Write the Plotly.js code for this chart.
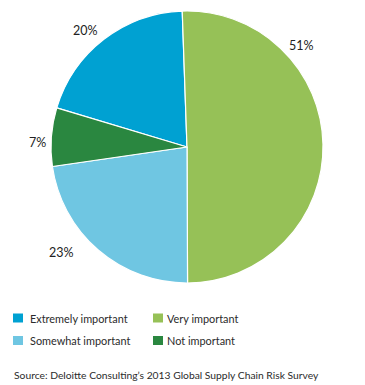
<!DOCTYPE html>
<html>
<head>
<meta charset="utf-8">
<script src="https://cdn.plot.ly/plotly-3.0.1.min.js"></script>
<style>html,body{margin:0;padding:0;background:#fff;}#chart{width:365px;height:385px;}</style>
</head>
<body>
<div id="chart"></div>
<script>
// Data (slices run clockwise starting with "Extremely important")
const categories = ["Extremely important", "Very important", "Somewhat important", "Not important"];
const values = [20, 51, 23, 7];
const colors = ["#00a1d2", "#96c157", "#6fc6e2", "#2a8740"];
const legendOrder = ["Extremely important", "Very important", "Somewhat important", "Not important"];
const sourceText = "Source: Deloitte Consulting\u2019s 2013 Global Supply Chain Risk Survey";

// Layout helpers (pixel -> paper)
const W = 365, H = 385;
const px = v => v / W;
const py = v => 1 - v / H;

// Percentage label placement (pixels), same order as categories
const labelPos = [[85, 30], [301.5, 45], [61, 252], [37, 142]];
// Manual legend grid (pixels): 2 columns x 2 rows
const legendCols = [18, 158];
const legendTextX = [28, 165];
const legendRows = [318, 340.5];

const FONT = "Lato, 'Open Sans', sans-serif";
const TXT = "#2b2b2b";

const trace = {
  type: "pie",
  labels: categories,
  values: values,
  sort: false,
  direction: "clockwise",
  rotation: -73.3,
  marker: { colors: colors, line: { color: "#ffffff", width: 1.2 } },
  textinfo: "none",
  hoverinfo: "label+percent",
  showlegend: false,
  domain: { x: [px(51), px(323)], y: [py(283), py(11)] }
};

const annotations = categories.map((c, i) => ({
  text: values[i] + "%",
  x: px(labelPos[i][0]), y: py(labelPos[i][1]),
  xref: "paper", yref: "paper",
  xanchor: "center", yanchor: "middle",
  showarrow: false,
  font: { family: FONT, size: 12.5, color: "#222" }
}));

const shapes = [];
legendOrder.forEach((name, k) => {
  const idx = categories.indexOf(name);
  const col = k % 2, row = Math.floor(k / 2);
  const cx = legendCols[col], cy = legendRows[row];
  shapes.push({
    type: "rect", xref: "paper", yref: "paper",
    x0: px(cx - 5), x1: px(cx + 5), y0: py(cy + 4.5), y1: py(cy - 4.5),
    fillcolor: colors[idx], line: { width: 0 }
  });
  annotations.push({
    text: name,
    x: px(legendTextX[col]), y: py(cy),
    xref: "paper", yref: "paper",
    xanchor: "left", yanchor: "middle",
    showarrow: false,
    font: { family: FONT, size: 10.9, color: TXT }
  });
});

annotations.push({
  text: sourceText,
  x: px(12), y: py(375),
  xref: "paper", yref: "paper",
  xanchor: "left", yanchor: "middle",
  showarrow: false,
  font: { family: FONT, size: 10.3, color: TXT }
});

const layout = {
  width: W, height: H,
  margin: { l: 0, r: 0, t: 0, b: 0 },
  paper_bgcolor: "#ffffff",
  showlegend: false,
  annotations: annotations,
  shapes: shapes
};

Plotly.newPlot("chart", [trace], layout, { displayModeBar: false, staticPlot: true });
</script>
</body>
</html>
